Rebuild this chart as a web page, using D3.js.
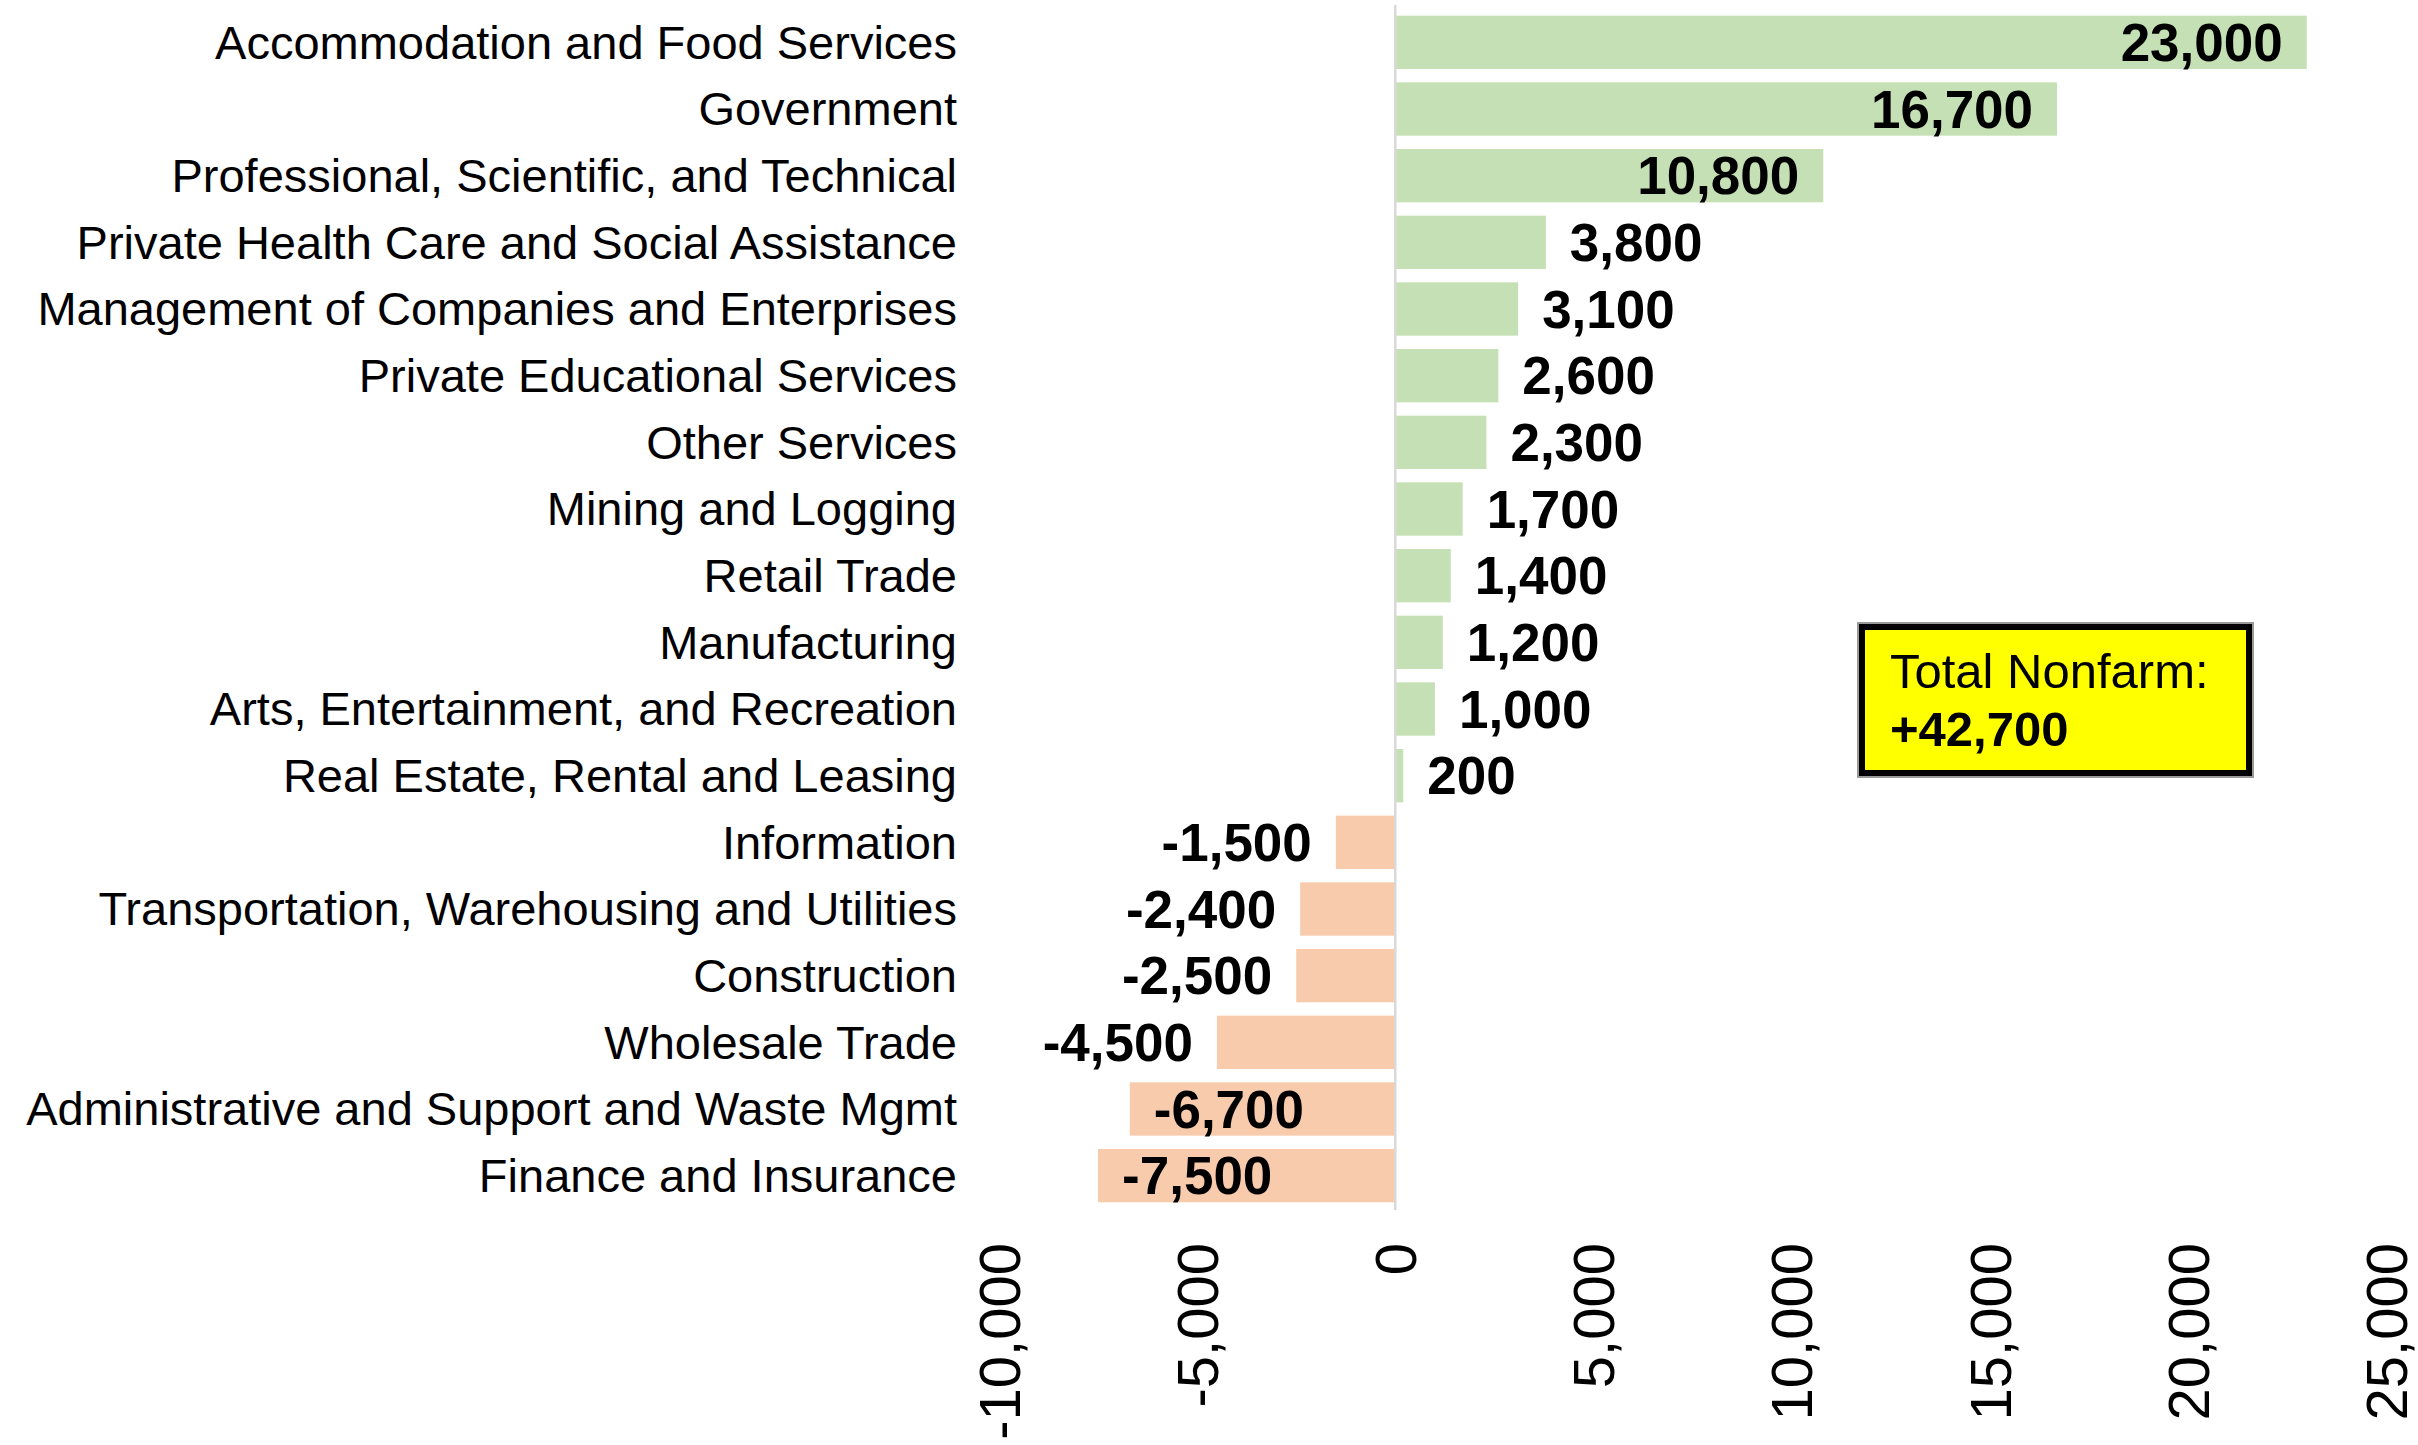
<!DOCTYPE html>
<html>
<head>
<meta charset="utf-8">
<script src="https://cdn.jsdelivr.net/npm/d3@7"></script>
<style>
  html, body { margin: 0; padding: 0; background: #ffffff; }
  svg { display: block; }
  text { font-family: "Liberation Sans", Arial, Helvetica, sans-serif; fill: #000; }
</style>
</head>
<body>
<svg id="chart" width="2418" height="1445"></svg>
<script>
const categories = [
  "Accommodation and Food Services",
  "Government",
  "Professional, Scientific, and Technical",
  "Private Health Care and Social Assistance",
  "Management of Companies and Enterprises",
  "Private Educational Services",
  "Other Services",
  "Mining and Logging",
  "Retail Trade",
  "Manufacturing",
  "Arts, Entertainment, and Recreation",
  "Real Estate, Rental and Leasing",
  "Information",
  "Transportation, Warehousing and Utilities",
  "Construction",
  "Wholesale Trade",
  "Administrative and Support and Waste Mgmt",
  "Finance and Insurance"
];
const values = [23000, 16700, 10800, 3800, 3100, 2600, 2300, 1700, 1400, 1200, 1000, 200,
  -1500, -2400, -2500, -4500, -6700, -7500];
const tickValues = [-10000, -5000, 0, 5000, 10000, 15000, 20000, 25000];
const totalLabel = "Total Nonfarm:";
const totalValue = "+42,700";

const data = categories.map((c, i) => ({ name: c, value: values[i] }));

const locale = d3.formatLocale({ decimal: ".", thousands: ",", grouping: [3], currency: ["$", ""], minus: "-" });
const fmt = locale.format(",");

const svg = d3.select("#chart");
svg.append("rect").attr("width", 2418).attr("height", 1445).attr("fill", "#fff");

const x = d3.scaleLinear().domain([-10000, 25000]).range([999, 2386]);
const y = d3.scaleBand().domain(categories).range([9, 1209]).paddingInner(0.2).paddingOuter(0.1);

// bars
svg.append("g").selectAll("rect").data(data).join("rect")
  .attr("x", d => x(Math.min(0, d.value)))
  .attr("width", d => Math.abs(x(d.value) - x(0)))
  .attr("y", d => y(d.name))
  .attr("height", y.bandwidth())
  .attr("fill", d => d.value >= 0 ? "#c5e0b4" : "#f8cbad");

// zero line
svg.append("line")
  .attr("x1", x(0)).attr("x2", x(0))
  .attr("y1", 5).attr("y2", 1210)
  .attr("stroke", "#d9d9d9").attr("stroke-width", 2.5);

// category labels
svg.append("g").selectAll("text").data(data).join("text")
  .attr("x", 957)
  .attr("y", d => y(d.name) + y.bandwidth() / 2)
  .attr("dy", "0.35em")
  .attr("text-anchor", "end")
  .style("font-size", "47px")
  .text(d => d.name);

// value labels
const pad = 24;
const vl = svg.append("g").selectAll("text").data(data).join("text")
  .attr("y", d => y(d.name) + y.bandwidth() / 2)
  .attr("dy", "0.35em")
  .style("font-size", "53px")
  .style("font-weight", "bold")
  .text(d => fmt(d.value));

vl.each(function(d) {
  const w = this.getComputedTextLength();
  const barW = Math.abs(x(d.value) - x(0));
  const inside = barW > w + 2 * pad;
  const sel = d3.select(this);
  if (d.value >= 0) {
    if (inside) sel.attr("x", x(d.value) - pad).attr("text-anchor", "end");
    else sel.attr("x", x(d.value) + pad).attr("text-anchor", "start");
  } else {
    if (inside) sel.attr("x", x(d.value) + pad).attr("text-anchor", "start");
    else sel.attr("x", x(d.value) - pad).attr("text-anchor", "end");
  }
});

// x axis (rotated tick labels)
const axis = svg.append("g")
  .attr("transform", "translate(0,1243)")
  .call(d3.axisBottom(x).tickValues(tickValues).tickFormat(fmt).tickSize(0).tickPadding(0));
axis.select(".domain").remove();
axis.selectAll("text")
  .attr("transform", "rotate(-90)")
  .attr("x", 0)
  .attr("y", 0)
  .attr("dy", "0.35em")
  .attr("text-anchor", "end")
  .style("font-size", "58px")
  .style("font-family", "'Liberation Sans', Arial, sans-serif")
  .attr("fill", "#000");

// Total Nonfarm box
const box = svg.append("g");
box.append("rect")
  .attr("x", 1858).attr("y", 623).attr("width", 395).attr("height", 154)
  .attr("fill", "none").attr("stroke", "#9a9a9a").attr("stroke-width", 2);
box.append("rect")
  .attr("x", 1862).attr("y", 627).attr("width", 387).attr("height", 146)
  .attr("fill", "#ffff00").attr("stroke", "#000").attr("stroke-width", 6);
box.append("text")
  .attr("x", 1890).attr("y", 688)
  .style("font-size", "49px")
  .text(totalLabel);
box.append("text")
  .attr("x", 1890).attr("y", 746)
  .style("font-size", "49px")
  .style("font-weight", "bold")
  .text(totalValue);
</script>
</body>
</html>
